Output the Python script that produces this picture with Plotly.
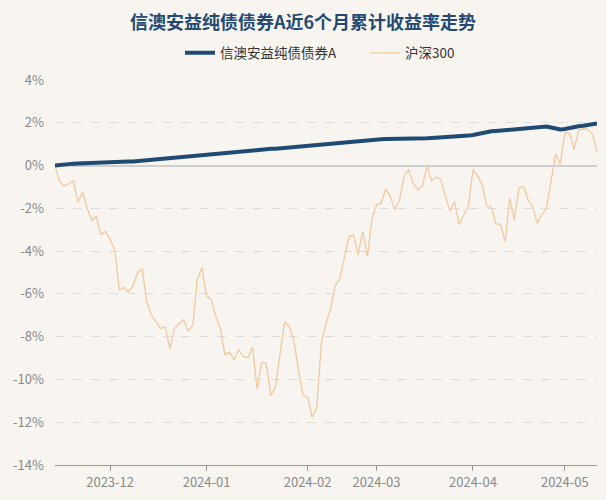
import plotly.graph_objects as go

# ---- data ----
month_days = [
    ("2023-11", [15, 16, 17, 20, 21, 22, 23, 24, 27, 28, 29, 30]),
    ("2023-12", [1, 4, 5, 6, 7, 8, 11, 12, 13, 14, 15, 18, 19, 20, 21, 22, 25, 26, 27, 28, 29]),
    ("2024-01", [2, 3, 4, 5, 8, 9, 10, 11, 12, 15, 16, 17, 18, 19, 22, 23, 24, 25, 26, 29, 30, 31]),
    ("2024-02", [1, 2, 5, 6, 7, 8, 19, 20, 21, 22, 23, 26, 27, 28, 29]),
    ("2024-03", [1, 4, 5, 6, 7, 8, 11, 12, 13, 14, 15, 18, 19, 20, 21, 22, 25, 26, 27, 28, 29]),
    ("2024-04", [1, 2, 3, 8, 9, 10, 11, 12, 15, 16, 17, 18, 19, 22, 23, 24, 25, 26, 29, 30]),
    ("2024-05", [6, 7, 8, 9, 10, 13, 14, 15]),
]
dates = [f"{m}-{d:02d}" for m, days in month_days for d in days]

fund_name = "信澳安益纯债债券A"
index_name = "沪深300"

fund = [
    0.00, 0.03, 0.05, 0.07, 0.09, 0.10, 0.11, 0.12, 0.13, 0.14,
    0.15, 0.16, 0.18, 0.20, 0.21, 0.20, 0.19, 0.19, 0.21, 0.23,
    0.25, 0.27, 0.30, 0.33, 0.35, 0.37, 0.38, 0.40, 0.42, 0.44,
    0.47, 0.50, 0.52, 0.53, 0.55, 0.56, 0.58, 0.61, 0.64, 0.66,
    0.68, 0.70, 0.71, 0.72, 0.73, 0.74, 0.76, 0.78, 0.79, 0.81,
    0.83, 0.85, 0.87, 0.89, 0.92, 0.95, 0.97, 0.98, 1.00, 1.02,
    1.04, 1.06, 1.08, 1.10, 1.12, 1.14, 1.16, 1.18, 1.20, 1.21,
    1.22, 1.23, 1.24, 1.24, 1.25, 1.25, 1.26, 1.26, 1.27, 1.27,
    1.28, 1.28, 1.29, 1.30, 1.31, 1.32, 1.33, 1.34, 1.35, 1.37,
    1.40, 1.43, 1.48, 1.53, 1.57, 1.60, 1.62, 1.64, 1.66, 1.68,
    1.70, 1.72, 1.74, 1.76, 1.79, 1.82, 1.83, 1.82, 1.78, 1.72,
    1.69, 1.71, 1.76, 1.81, 1.84, 1.86, 1.89, 1.93, 1.97,
]

hs300 = [
    0.00, -0.75, -0.95, -0.85, -0.70, -1.70, -1.25, -2.00, -2.57, -2.38,
    -3.24, -3.08, -3.44, -3.94, -5.82, -5.70, -5.90, -5.63, -5.00, -4.85,
    -6.40, -7.00, -7.31, -7.62, -7.54, -8.56, -7.62, -7.40, -7.20, -7.75,
    -7.46, -5.30, -4.80, -6.10, -6.26, -7.05, -7.60, -8.85, -8.72, -9.08,
    -8.60, -8.92, -8.98, -8.48, -10.44, -9.19, -9.27, -10.75, -10.36, -8.80,
    -7.31, -7.51, -8.17, -9.58, -10.75, -10.83, -11.77, -11.30, -8.25, -7.38,
    -6.70, -5.62, -5.30, -4.30, -3.32, -3.24, -4.18, -3.06, -4.26, -2.50,
    -1.83, -1.75, -1.10, -1.44, -2.07, -1.60, -0.50, -0.19, -0.85, -1.13,
    -0.94, -0.03, -0.73, -0.53, -0.66, -1.44, -2.14, -1.67, -2.77, -2.30,
    -1.90, -0.19, -0.47, -0.89, -1.88, -1.94, -2.72, -2.77, -3.55, -1.52,
    -2.54, -1.05, -0.97, -1.60, -1.91, -2.69, -2.30, -1.99, -0.66, 0.55,
    0.08, 1.53, 1.53, 0.75, 1.65, 1.72, 1.69, 1.46, 0.63,
]

tick_dates = ["2023-12-01", "2024-01-02", "2024-02-01", "2024-03-01", "2024-04-01", "2024-05-06"]
tick_labels = ["2023-12", "2024-01", "2024-02", "2024-03", "2024-04", "2024-05"]
y_ticks = [4, 2, 0, -2, -4, -6, -8, -10, -12, -14]
y_labels = [f"{v}%" for v in y_ticks]

title_text = "信澳安益纯债债券A近6个月累计收益率走势"

# ---- figure ----
FONT = "Noto Sans CJK SC"
BG = "#f8f5f1"

fig = go.Figure()
fig.add_trace(go.Scatter(
    x=dates, y=hs300, name=index_name, mode="lines",
    line=dict(color="#f2c9a0", width=1.3),
))
fig.add_trace(go.Scatter(
    x=dates, y=fund, name=fund_name, mode="lines",
    line=dict(color="#1f4a74", width=4),
))

fig.update_layout(
    width=606, height=500,
    paper_bgcolor=BG, plot_bgcolor=BG,
    margin=dict(l=55, r=9, t=80, b=35, autoexpand=False),
    font=dict(family=FONT, color="#555"),
    title=dict(
        text=f"<b>{title_text}</b>", x=0.5, xanchor="center",
        y=0.954, yref="container", yanchor="middle",
        font=dict(family=FONT, size=18, color="#244a72"),
    ),
    legend=dict(
        orientation="h", xref="container", x=0.297, xanchor="left",
        y=0.894, yref="container", yanchor="middle",
        font=dict(family=FONT, size=13.5, color="#333"),
        traceorder="reversed", bgcolor="rgba(0,0,0,0)",
        itemwidth=30, entrywidth=140, entrywidthmode="pixels",
    ),
    showlegend=True,
    xaxis=dict(
        type="category", range=[0, len(dates) - 1],
        tickmode="array", tickvals=tick_dates, ticktext=tick_labels,
        showgrid=False, showline=True, linecolor="#999", linewidth=1,
        ticks="outside", ticklen=5, tickcolor="#999",
        tickfont=dict(family=FONT, size=13, color="#888"),
        zeroline=False, automargin=False,
    ),
    yaxis=dict(
        range=[-14, 4], tickmode="array", tickvals=y_ticks, ticktext=y_labels,
        showgrid=True, gridcolor="#dcdcdc", griddash="dash", gridwidth=1,
        zeroline=True, zerolinecolor="#cfcfcf", zerolinewidth=2,
        tickfont=dict(family=FONT, size=13, color="#888"),
        ticks="", showline=False, ticklabelstandoff=10, automargin=False,
    ),
)

fig.write_html(
    "out.html",
    config={"displayModeBar": False},
    post_script="document.body.style.margin='0';document.body.style.background='%s';" % BG,
)
